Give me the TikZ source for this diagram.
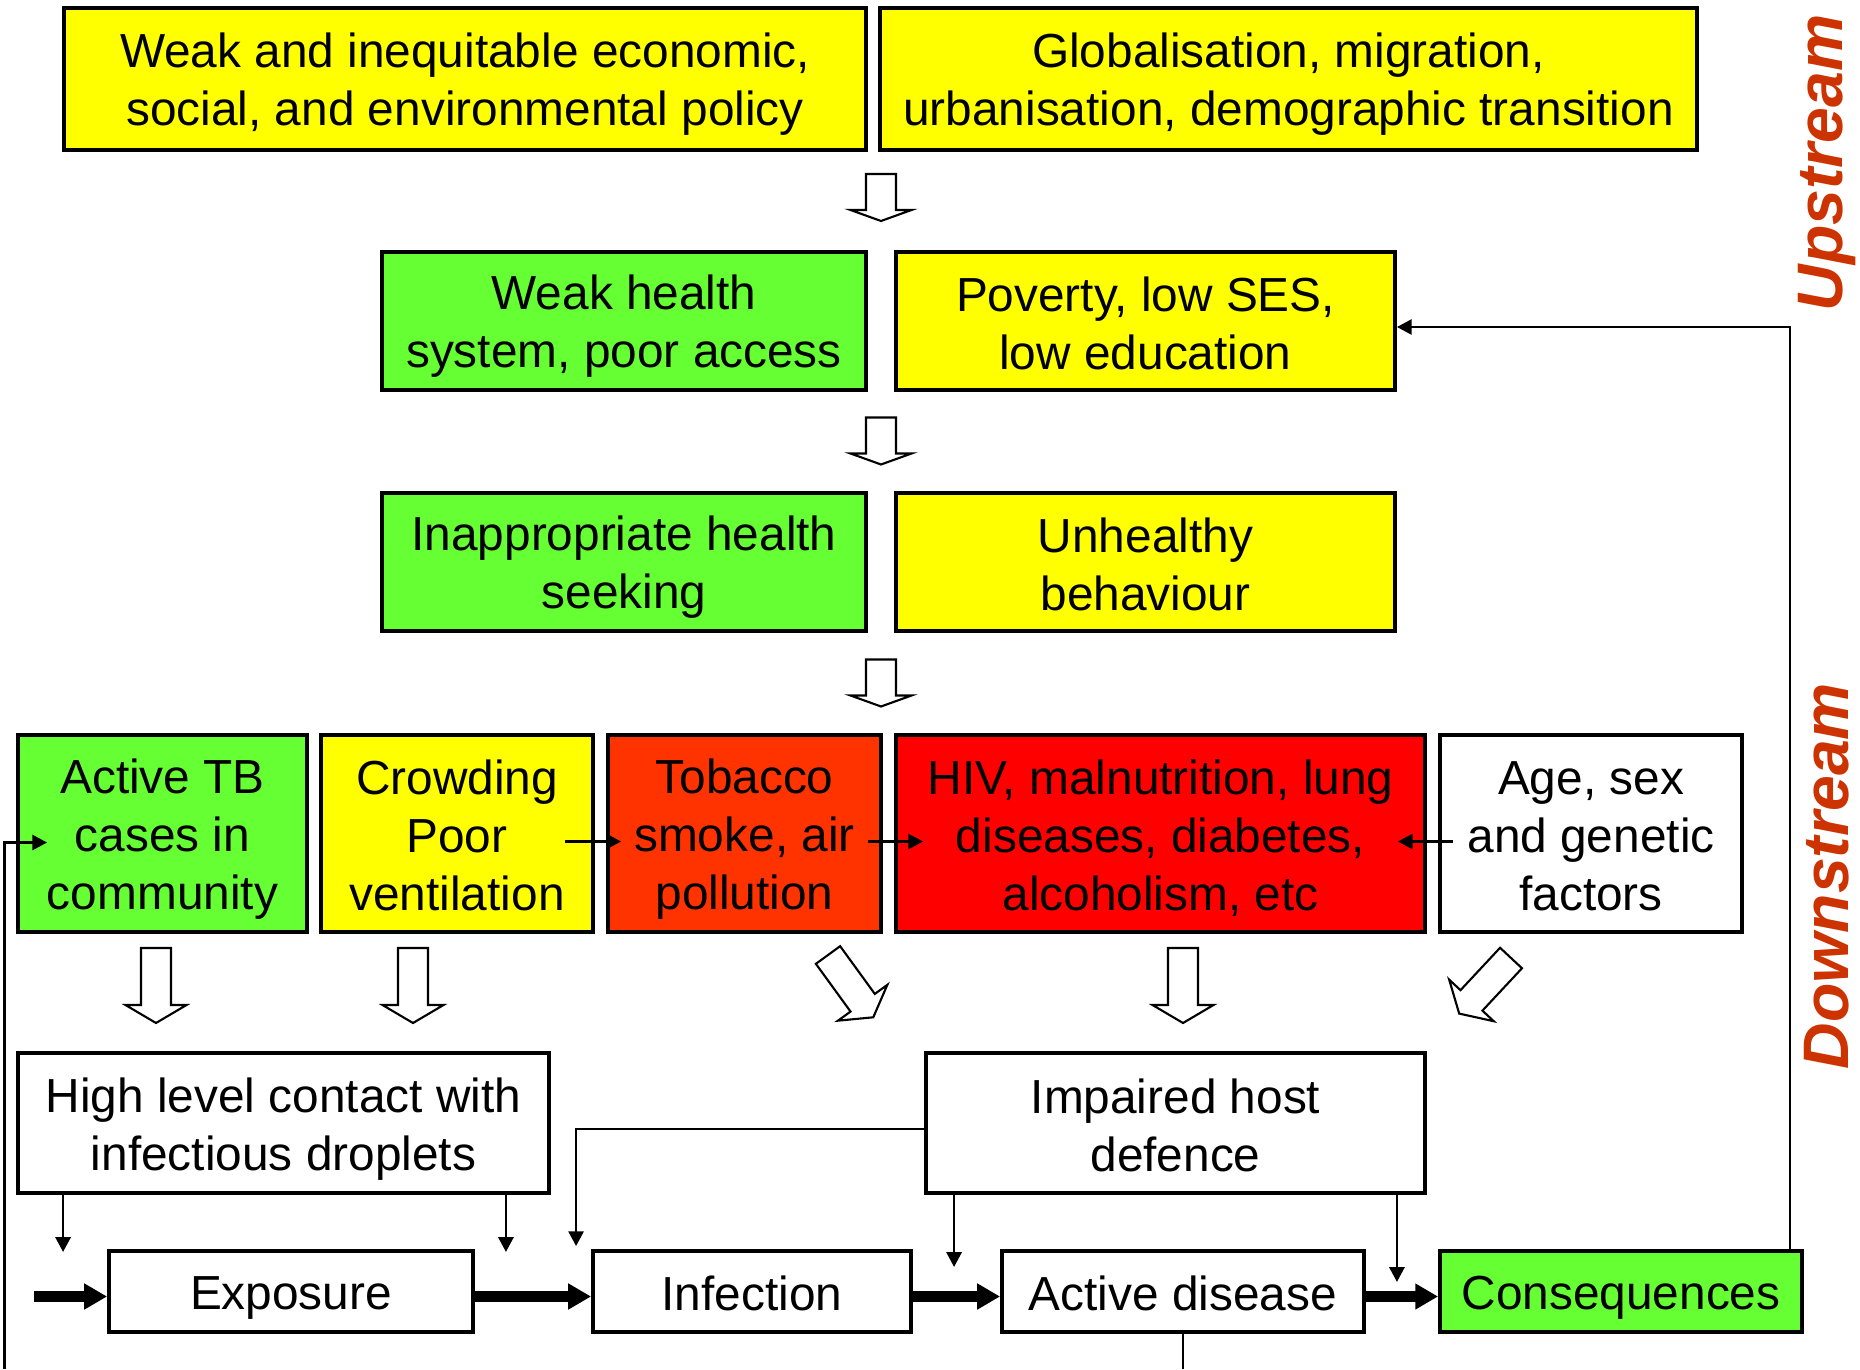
\documentclass[tikz,border=0pt]{standalone}
\usepackage{fontspec}
\setmainfont{Liberation Sans}
\usetikzlibrary{arrows.meta}
\definecolor{ylw}{HTML}{FFFF00}
\definecolor{grn}{HTML}{66FF33}
\definecolor{tob}{HTML}{FF3300}
\definecolor{hiv}{HTML}{FF0000}
\definecolor{streamred}{HTML}{CC3300}
\newcommand{\ls}{\rule[-2.04pt]{0pt}{15.1pt}}
\begin{document}
\begin{tikzpicture}[
    cause/.style={draw, line width=1.1pt, align=center, inner sep=0pt, font=\fontsize{13.6}{16.5}\selectfont,
        execute at end node=\ls},
    link/.style={line width=0.7pt, -{Triangle[length=4.2pt, width=4.3pt]}},
    flow/.style={line width=3.1pt, -{Triangle[length=6.5pt, width=7pt]}},
    hollow/.style={draw, line width=0.6pt, fill=white, line join=miter},
    side/.style={rotate=90, inner sep=0pt, text=streamred, font=\fontsize{18.3}{20}\selectfont\bfseries\itshape}]
    \useasboundingbox (0,0) rectangle (18.6,-13.69);
    % upstream
    \node[cause, fill=ylw, minimum width=8.02cm, minimum height=1.42cm] (policy) at (4.65,-0.79) {\ls Weak and inequitable economic,\\social, and environmental policy};
    \node[cause, fill=ylw, minimum width=8.17cm, minimum height=1.42cm] (global) at (12.885,-0.79) {\ls Globalisation, migration,\\urbanisation, demographic transition};
    \node[cause, fill=grn, minimum width=4.84cm, minimum height=1.38cm] (system) at (6.24,-3.21) {\ls Weak health\\system, poor access};
    \node[cause, fill=ylw, minimum width=4.99cm, minimum height=1.38cm] (poverty) at (11.455,-3.21) {\ls Poverty, low SES,\\low education};
    \node[cause, fill=grn, minimum width=4.84cm, minimum height=1.38cm] (seeking) at (6.24,-5.62) {\ls Inappropriate health\\seeking};
    \node[cause, fill=ylw, minimum width=4.99cm, minimum height=1.38cm] (behave) at (11.455,-5.62) {\ls Unhealthy\\behaviour};
    % risk factors
    \node[cause, fill=grn, minimum width=2.89cm, minimum height=1.97cm] (tb) at (1.625,-8.335) {\ls Active TB\\cases in\\community};
    \node[cause, fill=ylw, minimum width=2.72cm, minimum height=1.97cm] (crowd) at (4.57,-8.335) {\ls Crowding\\Poor\\ventilation};
    \node[cause, fill=tob, minimum width=2.73cm, minimum height=1.97cm] (tobacco) at (7.445,-8.335) {\ls Tobacco\\smoke, air\\pollution};
    \node[cause, fill=hiv, minimum width=5.29cm, minimum height=1.97cm] (hiv) at (11.605,-8.335) {\ls HIV, malnutrition, lung\\diseases, diabetes,\\alcoholism, etc};
    \node[cause, fill=white, minimum width=3.02cm, minimum height=1.97cm] (age) at (15.91,-8.335) {\ls Age, sex\\and genetic\\factors};
    \node[cause, minimum width=5.31cm, minimum height=1.40cm] (contact) at (2.835,-11.23) {\ls High level contact with\\infectious droplets};
    \node[cause, minimum width=4.99cm, minimum height=1.40cm] (impaired) at (11.755,-11.23) {\ls Impaired host\\defence};
    % pathway
    \node[cause, minimum width=3.64cm, minimum height=0.81cm] (expo) at (2.91,-12.915) {Exposure};
    \node[cause, minimum width=3.18cm, minimum height=0.81cm] (infect) at (7.52,-12.915) {Infection};
    \node[cause, minimum width=3.62cm, minimum height=0.81cm] (actdis) at (11.83,-12.915) {Active disease};
    \node[cause, fill=grn, minimum width=3.62cm, minimum height=0.81cm] (conseq) at (16.21,-12.915) {Consequences};
    \node[side] (up) at (18.27,-1.63) {Upstream};
    \node[side] (down) at (18.27,-8.76) {Downstream};
    \coordinate (loopL) at (0.045,-13.69);
    \coordinate (loopR) at (11.83,-13.69);
    % block arrows: x/y/rotate/length/head
    \foreach \x/\y/\r/\l/\h in {8.81/-1.74/0/0.47/0.11, 8.81/-4.175/0/0.47/0.11, 8.81/-6.595/0/0.47/0.11,
        1.56/-9.48/0/0.75/0.18, 4.13/-9.48/0/0.75/0.18, 11.83/-9.48/0/0.75/0.18,
        8.28/-9.55/36/0.77/0.18, 15.11/-9.58/-43/0.76/0.18}
        \draw[hollow, shift={(\x,\y)}, rotate=\r] (-0.15,0) -- (-0.15,{-\l+\h}) -- (-0.305,{-\l+\h}) -- (0,-\l) -- (0.305,{-\l+\h}) -- (0.15,{-\l+\h}) -- (0.15,0) -- cycle;
    % thin links
    \draw[link] (loopL) |- ([xshift=0.31cm,yshift=-0.09cm]tb.west);
    \draw[line width=0.7pt] (actdis.south) -- (loopR);
    \draw[link] ([xshift=-0.30cm,yshift=-0.08cm]crowd.east) -- ([xshift=0.15cm,yshift=-0.08cm]tobacco.west);
    \draw[link] ([xshift=-0.15cm,yshift=-0.08cm]tobacco.east) -- ([xshift=0.29cm,yshift=-0.08cm]hiv.west);
    \draw[link] ([xshift=0.15cm,yshift=-0.08cm]age.west) -- ([xshift=-0.29cm,yshift=-0.08cm]hiv.east);
    \draw[link] ([xshift=-0.14cm]conseq.north east) |- ([yshift=-0.06cm]poverty.east);
    \draw[link] ([xshift=0.47cm]contact.south west) -- ++(0,-0.57);
    \draw[link] ([xshift=-0.45cm]contact.south east) -- ++(0,-0.57);
    \draw[link] ([yshift=-0.06cm]impaired.west) -| ([xshift=-0.15cm,yshift=0.03cm]infect.north west);
    \draw[link] ([xshift=0.30cm]impaired.south west) -- ++(0,-0.72);
    \draw[link] ([xshift=-0.30cm]impaired.south east) -- ++(0,-0.87);
    % thick flow along the pathway
    \draw[flow] ([xshift=-0.73cm,yshift=-0.05cm]expo.west) -- ([yshift=-0.05cm]expo.west);
    \draw[flow] ([yshift=-0.05cm]expo.east) -- ([yshift=-0.05cm]infect.west);
    \draw[flow] ([yshift=-0.05cm]infect.east) -- ([yshift=-0.05cm]actdis.west);
    \draw[flow] ([yshift=-0.05cm]actdis.east) -- ([yshift=-0.05cm]conseq.west);
\end{tikzpicture}
\end{document}
